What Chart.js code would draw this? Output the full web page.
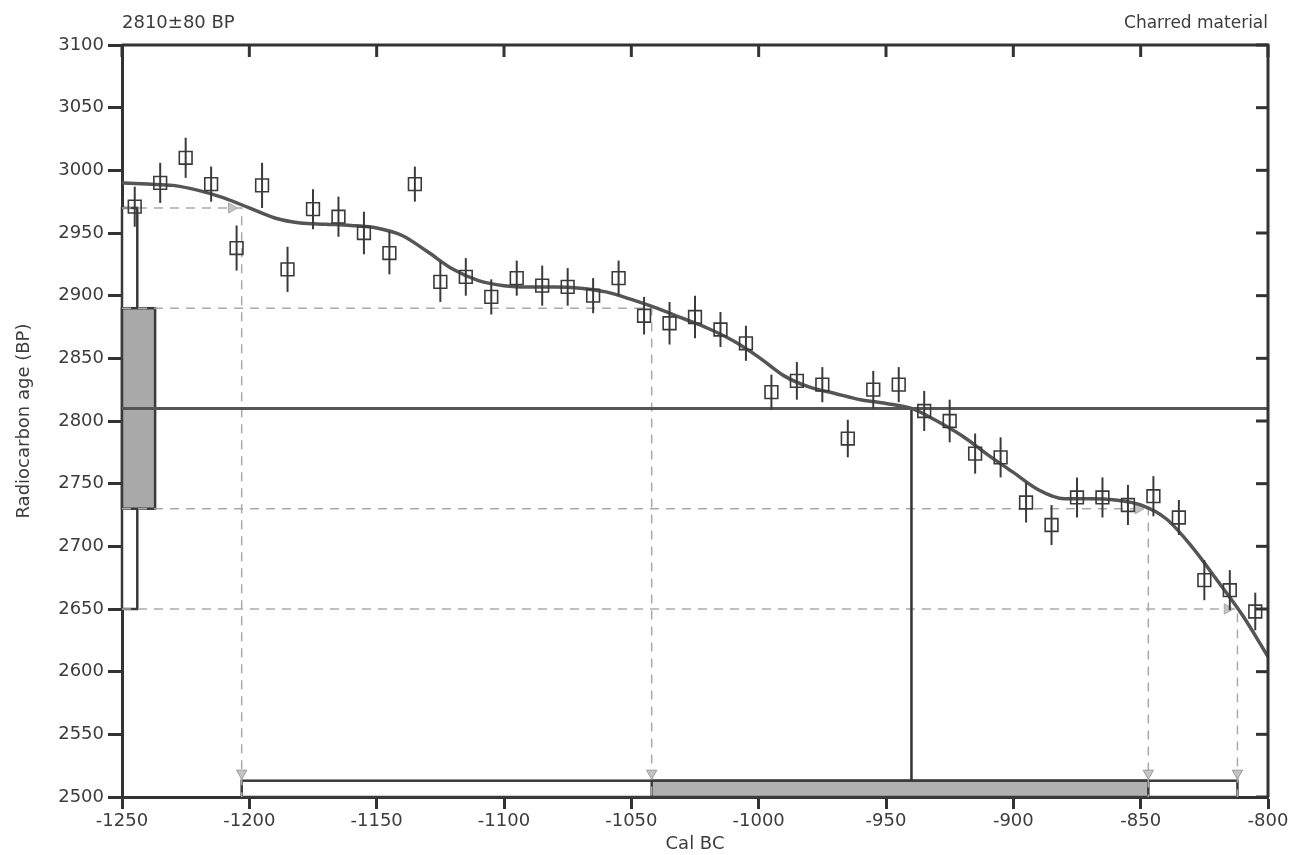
<!DOCTYPE html>
<html>
<head>
<meta charset="utf-8">
<script src="https://cdn.jsdelivr.net/npm/chart.js@4"></script>
<style>
  html, body { margin: 0; padding: 0; background: #fff; }
  #wrap { width: 1291px; height: 855px; }
</style>
</head>
<body>
<div id="wrap"><canvas id="graf" width="1291" height="855"></canvas></div>
<script>
// measured samples of the calibration data set (cal BC, BP, +-error)
const sampleYears = [-1245,-1235,-1225,-1215,-1205,-1195,-1185,-1175,-1165,-1155,-1145,-1135,-1125,-1115,-1105,-1095,-1085,-1075,-1065,-1055,-1045,-1035,-1025,-1015,-1005,-995,-985,-975,-965,-955,-945,-935,-925,-915,-905,-895,-885,-875,-865,-855,-845,-835,-825,-815,-805];
const sampleAges  = [2971,2990,3010,2989,2938,2988,2921,2969,2963,2950,2934,2989,2911,2915,2899,2914,2908,2907,2900,2914,2884,2878,2883,2873,2862,2823,2832,2829,2786,2825,2829,2808,2800,2774,2771,2735,2717,2739,2739,2733,2740,2723,2673,2665,2648];
const sampleErrs  = [16,16,16,14,18,18,18,16,16,17,17,14,16,15,14,14,16,15,14,14,15,17,17,14,14,14,15,14,15,15,14,16,17,16,16,16,16,16,16,16,16,14,16,16,15];

// calibration curve
const curveYears = [-1250,-1240,-1230,-1220,-1210,-1200,-1190,-1180,-1170,-1160,-1150,-1140,-1130,-1120,-1110,-1100,-1090,-1080,-1070,-1060,-1050,-1040,-1030,-1020,-1010,-1000,-990,-980,-970,-960,-950,-940,-930,-920,-910,-900,-890,-880,-870,-860,-850,-840,-830,-820,-810,-800];
const curveAges  = [2990,2989,2988,2984,2978,2970,2962,2958,2957,2956,2954,2948,2935,2921,2912,2908,2907,2907,2906,2903,2897,2890,2882,2874,2864,2851,2836,2827,2822,2817,2814,2810,2800,2788,2773,2759,2745,2738,2738,2737,2733,2722,2700,2673,2645,2612];

// measured age and ranges
const measuredAge = 2810;
const ageSigma1 = [2730, 2890];
const ageSigma2 = [2650, 2970];
const calSigma1 = [-1042, -847];
const calSigma2 = [-1203, -812];
const calMedian = -940;

const xMin = -1250, xMax = -800, xStep = 50;
const yMin = 2500, yMax = 3100, yStep = 50;

const titleLeft = "2810±80 BP";
const titleRight = "Charred material";
const xTitle = "Cal BC";
const yTitle = "Radiocarbon age (BP)";

const FONT = "'DejaVu Sans', sans-serif";
const DARK = '#3a3a3a';
const TEXT = '#3c3c3c';

// dashed guide lines (null breaks the line)
const guideData = [];
guideData.push({x: xMin, y: ageSigma2[1]}, {x: calSigma2[0], y: ageSigma2[1]}, {x: calSigma2[0], y: yMin}, {x: null, y: null});
guideData.push({x: xMin, y: ageSigma1[1]}, {x: calSigma1[0], y: ageSigma1[1]}, {x: calSigma1[0], y: yMin}, {x: null, y: null});
guideData.push({x: xMin, y: ageSigma1[0]}, {x: calSigma1[1], y: ageSigma1[0]}, {x: calSigma1[1], y: yMin}, {x: null, y: null});
guideData.push({x: xMin, y: ageSigma2[0]}, {x: calSigma2[1], y: ageSigma2[0]}, {x: calSigma2[1], y: yMin});

const barTop = 2513;
const arrowDown = [calSigma2[0], calSigma1[0], calSigma1[1], calSigma2[1]].map(v => ({x: v, y: 2519}));
const arrowRight = [{x: calSigma2[0] - 4, y: ageSigma2[1]}, {x: calSigma1[1] - 4, y: ageSigma1[0]}, {x: calSigma2[1] - 4, y: ageSigma2[0]}];

const boxes = {
  id: 'boxes',
  beforeDatasetsDraw(chart) {
    const {ctx, scales: {x, y}} = chart;
    ctx.save();
    ctx.lineWidth = 2.5;
    ctx.strokeStyle = DARK;
    // age ranges on the left
    let x0 = x.getPixelForValue(xMin);
    let r2 = [x0, y.getPixelForValue(ageSigma2[1]), x.getPixelForValue(-1244) - x0, y.getPixelForValue(ageSigma2[0]) - y.getPixelForValue(ageSigma2[1])];
    ctx.fillStyle = '#fff';
    ctx.fillRect(...r2); ctx.strokeRect(...r2);
    let r1 = [x0, y.getPixelForValue(ageSigma1[1]), x.getPixelForValue(-1237) - x0, y.getPixelForValue(ageSigma1[0]) - y.getPixelForValue(ageSigma1[1])];
    ctx.fillStyle = '#a9a9a9';
    ctx.fillRect(...r1); ctx.strokeRect(...r1);
    // calendar ranges at the bottom
    let yb = y.getPixelForValue(yMin), yt = y.getPixelForValue(barTop);
    let b2 = [x.getPixelForValue(calSigma2[0]), yt, x.getPixelForValue(calSigma2[1]) - x.getPixelForValue(calSigma2[0]), yb - yt];
    ctx.strokeRect(...b2);
    let b1 = [x.getPixelForValue(calSigma1[0]), yt, x.getPixelForValue(calSigma1[1]) - x.getPixelForValue(calSigma1[0]), yb - yt];
    ctx.fillStyle = '#b0b0b0';
    ctx.fillRect(...b1); ctx.strokeRect(...b1);
    ctx.restore();
  },
  afterDatasetsDraw(chart) {
    const {ctx, chartArea: a, scales: {x, y}} = chart;
    ctx.save();
    // error bars
    ctx.strokeStyle = DARK;
    ctx.lineWidth = 2;
    sampleYears.forEach((yr, i) => {
      const px = x.getPixelForValue(yr);
      ctx.beginPath();
      ctx.moveTo(px, y.getPixelForValue(sampleAges[i] + sampleErrs[i]));
      ctx.lineTo(px, y.getPixelForValue(sampleAges[i] - sampleErrs[i]));
      ctx.stroke();
    });
    // frame top/right with inner ticks
    ctx.lineWidth = 3;
    ctx.strokeStyle = '#333';
    ctx.beginPath();
    ctx.moveTo(a.left, a.top); ctx.lineTo(a.right, a.top); ctx.lineTo(a.right, a.bottom);
    ctx.stroke();
    ctx.lineWidth = 3;
    x.ticks.forEach(t => {
      const px = x.getPixelForValue(t.value);
      ctx.beginPath(); ctx.moveTo(px, a.top); ctx.lineTo(px, a.top + 12); ctx.stroke();
    });
    y.ticks.forEach(t => {
      const py = y.getPixelForValue(t.value);
      ctx.beginPath(); ctx.moveTo(a.right, py); ctx.lineTo(a.right - 12, py); ctx.stroke();
    });
    // header texts
    ctx.fillStyle = TEXT;
    ctx.textBaseline = 'alphabetic';
    ctx.textAlign = 'left';
    ctx.font = '18px ' + FONT;
    ctx.fillText(titleLeft, a.left, 28);
    ctx.textAlign = 'right';
    ctx.font = '17px ' + FONT;
    ctx.fillText(titleRight, a.right, 28);
    ctx.restore();
  }
};

const ctx = document.querySelector('#graf').getContext('2d');
const graf = new Chart(ctx, {
  type: 'scatter',
  data: {
    datasets: [
      {
        label: 'guides',
        type: 'line',
        data: guideData,
        borderColor: '#aaaaaa',
        borderWidth: 1.5,
        borderDash: [9, 7],
        pointRadius: 0,
        spanGaps: false,
        order: 6
      },
      {
        label: 'arrows down',
        data: arrowDown,
        pointStyle: 'triangle',
        rotation: 180,
        pointRadius: 6,
        backgroundColor: '#c4c4c4',
        borderColor: '#999',
        borderWidth: 1,
        order: 5
      },
      {
        label: 'arrows right',
        data: arrowRight,
        pointStyle: 'triangle',
        rotation: 90,
        pointRadius: 6,
        backgroundColor: '#c4c4c4',
        borderColor: '#aaa',
        borderWidth: 1,
        order: 5
      },
      {
        label: 'measured',
        type: 'line',
        data: [{x: xMin, y: measuredAge}, {x: xMax, y: measuredAge}],
        borderColor: '#555',
        borderWidth: 3,
        pointRadius: 0,
        order: 4
      },
      {
        label: 'median',
        type: 'line',
        data: [{x: calMedian, y: measuredAge}, {x: calMedian, y: barTop}],
        borderColor: '#333',
        borderWidth: 2.5,
        pointRadius: 0,
        order: 4
      },
      {
        label: 'curve',
        type: 'line',
        data: curveYears.map((v, i) => ({x: v, y: curveAges[i]})),
        borderColor: '#555',
        borderWidth: 3.5,
        pointRadius: 0,
        cubicInterpolationMode: 'monotone',
        order: 2
      },
      {
        label: 'samples',
        data: sampleYears.map((v, i) => ({x: v, y: sampleAges[i]})),
        pointStyle: 'rect',
        pointRadius: 9,
        backgroundColor: 'rgba(255,255,255,0)',
        borderColor: DARK,
        borderWidth: 1.6,
        order: 1
      }
    ]
  },
  options: {
    responsive: false,
    animation: false,
    events: [],
    layout: { padding: { top: 45, right: 23, left: 0, bottom: 0 } },
    plugins: { legend: { display: false }, tooltip: { enabled: false } },
    scales: {
      x: {
        type: 'linear',
        min: xMin, max: xMax,
        afterFit: s => { s.height = 58; },
        ticks: { stepSize: xStep, color: TEXT, font: { family: FONT, size: 18 }, padding: 2, maxRotation: 0,
                 callback: v => String(v) },
        grid: { drawOnChartArea: false, tickLength: 12, tickWidth: 3, tickColor: '#333' },
        border: { color: '#333', width: 3 },
        title: { display: true, text: xTitle, color: TEXT, font: { family: FONT, size: 18 }, padding: { top: 0, bottom: 0 } }
      },
      y: {
        type: 'linear',
        min: yMin, max: yMax,
        afterFit: s => { s.width = 122; },
        ticks: { stepSize: yStep, color: TEXT, font: { family: FONT, size: 18 }, padding: 4,
                 callback: v => String(v) },
        grid: { drawOnChartArea: false, tickLength: 14, tickWidth: 3, tickColor: '#333' },
        border: { color: '#333', width: 3 },
        title: { display: true, text: yTitle, color: TEXT, font: { family: FONT, size: 18 }, padding: { top: 14, bottom: 0 } }
      }
    }
  },
  plugins: [boxes]
});
</script>
</body>
</html>
